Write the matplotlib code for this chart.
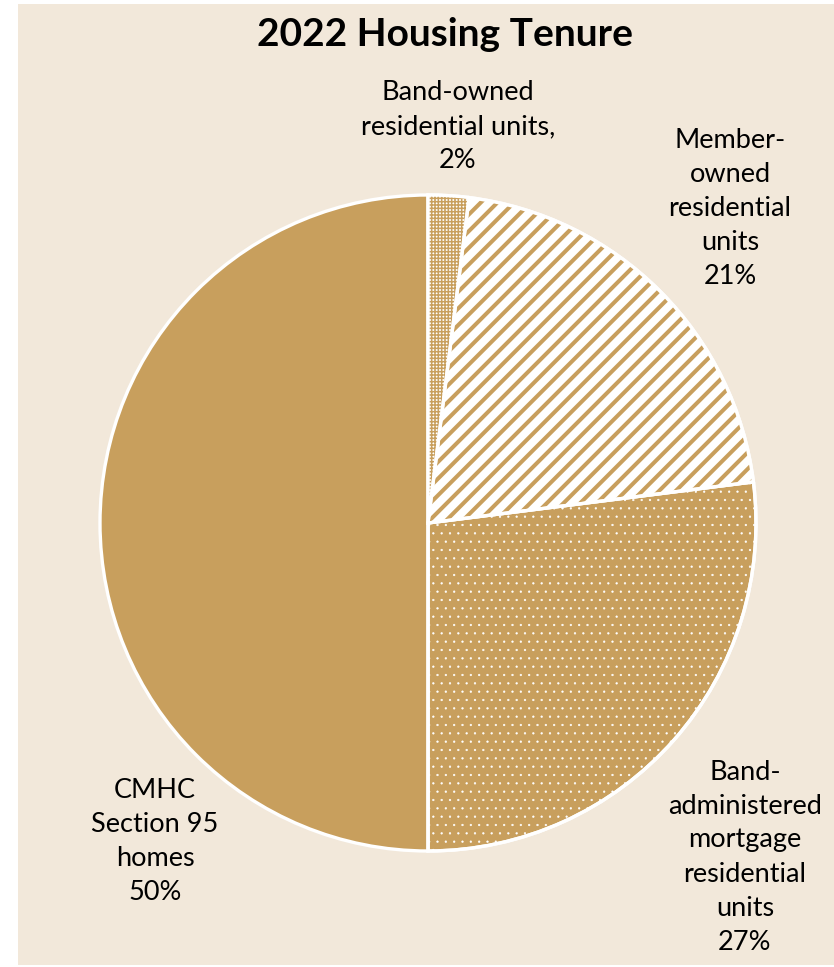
import matplotlib
matplotlib.use("Agg")
import matplotlib.pyplot as plt
from matplotlib.patches import Wedge, Rectangle

# data
labels = [
    "Band-owned\nresidential units,\n2%",
    "Member-\nowned\nresidential\nunits\n21%",
    "Band-\nadministered\nmortgage\nresidential\nunits\n27%",
    "CMHC\nSection 95\nhomes\n50%",
]
shares = [2, 21, 27, 50]

TAN = "#C89F5D"
BEIGE = "#F2E8DA"
# (face, hatch pattern, hatch colour, hatch linewidth)
styles = [
    ("white", "+++++", TAN, 1.1),
    ("white", "//", TAN, 2.9),
    (TAN, "..", "white", 0.4),
    (TAN, None, None, 0),
]
# label centres in pixel space (x from left, y from top)
label_pos = [(458, 127), (730, 209), (745, 857), (155, 841)]

W, H = 834, 967
CX, CY, R = 428, H - 523, 328

plt.rcParams["font.family"] = ["Lato", "DejaVu Sans"]

fig = plt.figure(figsize=(W / 100, H / 100), dpi=100, facecolor="white")
ax = fig.add_axes([0, 0, 1, 1])
ax.add_patch(Rectangle((18, 2), W - 18, H - 6, facecolor=BEIGE, edgecolor="none", zorder=0))

wedges, _ = ax.pie(shares, colors=[s[0] for s in styles], startangle=90, counterclock=False,
                   center=(CX, CY), radius=R,
                   wedgeprops=dict(edgecolor="white", linewidth=2.4))

for w, (face, pat, hcol, hlw) in zip(wedges, styles):
    if pat is None:
        continue
    # hatch line width is picked up when the patch is created
    with plt.rc_context({"hatch.linewidth": hlw}):
        p = Wedge(w.center, w.r, w.theta1, w.theta2, facecolor="none",
                  edgecolor=hcol, linewidth=0, hatch=pat, zorder=w.get_zorder() + 0.1)
    ax.add_patch(p)
    ax.add_patch(Wedge(w.center, w.r, w.theta1, w.theta2, facecolor="none",
                       edgecolor="white", linewidth=2.4, zorder=w.get_zorder() + 0.2))

for txt, (x, y) in zip(labels, label_pos):
    ax.text(x, H - y, txt, ha="center", va="center", fontsize=19.5,
            linespacing=1.45, color="black")

ax.text(445, H - 35, "2022 Housing Tenure", ha="center", va="center",
        fontsize=28, fontweight="bold", color="black")

ax.set_xlim(0, W)
ax.set_ylim(0, H)
ax.set_aspect("auto")
ax.axis("off")

fig.savefig("out.png", dpi=100, facecolor="white")
